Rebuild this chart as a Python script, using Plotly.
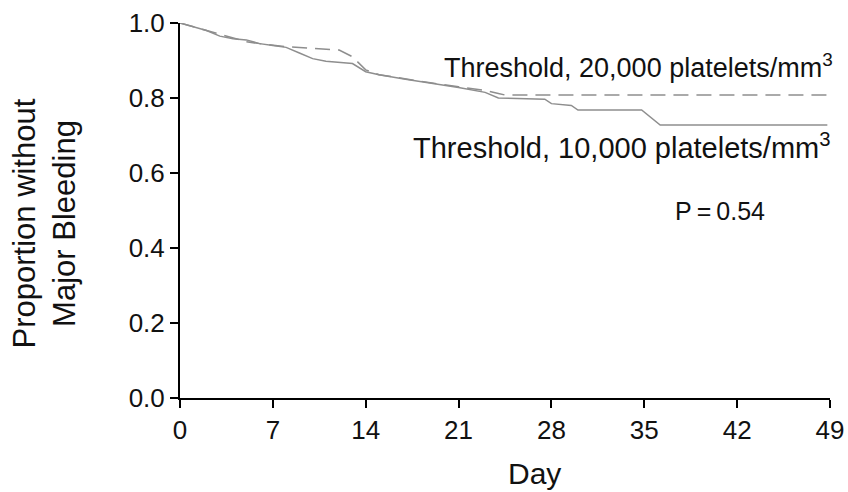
import plotly.graph_objects as go

# Kaplan-Meier style curves: proportion of patients without major bleeding by day
days_20k = [0, 1, 2, 3, 4, 5, 6, 7, 8, 9, 10, 11, 12, 13, 14, 15, 17, 19, 21, 23, 24, 24.5, 48.8]
surv_20k = [1.0, 0.99, 0.98, 0.97, 0.96, 0.95, 0.945, 0.94, 0.937, 0.935, 0.932, 0.93, 0.928,
            0.91, 0.875, 0.862, 0.85, 0.84, 0.83, 0.82, 0.812, 0.808, 0.808]

days_10k = [0, 1, 2, 3, 4, 5, 6, 7, 8, 9, 10, 11, 12, 13, 14, 15, 17, 19, 21, 23, 24,
            27.5, 28, 29.5, 30, 34.8, 36.2, 48.8]
surv_10k = [1.0, 0.99, 0.98, 0.965, 0.958, 0.955, 0.945, 0.94, 0.935, 0.92, 0.905, 0.898, 0.895,
            0.892, 0.87, 0.862, 0.85, 0.84, 0.828, 0.815, 0.8, 0.797, 0.785, 0.78, 0.768,
            0.768, 0.728, 0.728]

x_ticks = [0, 7, 14, 21, 28, 35, 42, 49]
y_ticks = [0.0, 0.2, 0.4, 0.6, 0.8, 1.0]
y_tick_text = ["0.0", "0.2", "0.4", "0.6", "0.8", "1.0"]

FONT = "Liberation Sans, Arial, sans-serif"
LINE_COLOR = "#8e8e8e"

fig = go.Figure()
fig.add_trace(go.Scatter(
    x=days_20k, y=surv_20k, mode="lines",
    line=dict(color=LINE_COLOR, width=1.5, dash="15px,8px"),
    showlegend=False, hoverinfo="skip",
))
fig.add_trace(go.Scatter(
    x=days_10k, y=surv_10k, mode="lines",
    line=dict(color=LINE_COLOR, width=1.5),
    showlegend=False, hoverinfo="skip",
))

axis_common = dict(
    showline=True, linecolor="black", linewidth=2,
    ticks="outside", ticklen=8, tickwidth=2, tickcolor="black",
    showgrid=False, zeroline=False, automargin=False,
    tickfont=dict(family=FONT, size=26, color="#111"),
)

fig.update_layout(
    template="none",
    width=848, height=492,
    margin=dict(l=180, r=18, t=23, b=94),
    paper_bgcolor="white", plot_bgcolor="white",
    xaxis=dict(range=[0, 49], tickvals=x_ticks, **axis_common),
    yaxis=dict(range=[0, 1.0], tickvals=y_ticks, ticktext=y_tick_text, **axis_common),
    font=dict(family=FONT, color="#111"),
)

# curve labels and the log-rank P value, placed in paper coordinates
annotations = [
    dict(text="Threshold, 20,000 platelets/mm<sup>3</sup>", x=1.008, y=0.885,
         xanchor="right", size=27),
    dict(text="Threshold, 10,000 platelets/mm<sup>3</sup>", x=1.005, y=0.672,
         xanchor="right", size=29),
    dict(text="P\u2009=\u20090.54", x=0.831, y=0.50, xanchor="center", size=25),
]
for a in annotations:
    fig.add_annotation(text=a["text"], x=a["x"], y=a["y"], xref="paper", yref="paper",
                       xanchor=a["xanchor"], yanchor="middle", showarrow=False,
                       font=dict(family=FONT, size=a["size"], color="#111"))

fig.add_annotation(text="Proportion without<br>Major Bleeding", xref="paper", yref="paper",
                   x=-0.208, y=0.465, xanchor="center", yanchor="middle", textangle=-90,
                   showarrow=False, font=dict(family=FONT, size=31, color="#111"))
fig.add_annotation(text="Day", xref="paper", yref="paper", x=0.546, y=-0.2,
                   xanchor="center", yanchor="middle", showarrow=False,
                   font=dict(family=FONT, size=30, color="#111"))

fig.write_html("out.html")
